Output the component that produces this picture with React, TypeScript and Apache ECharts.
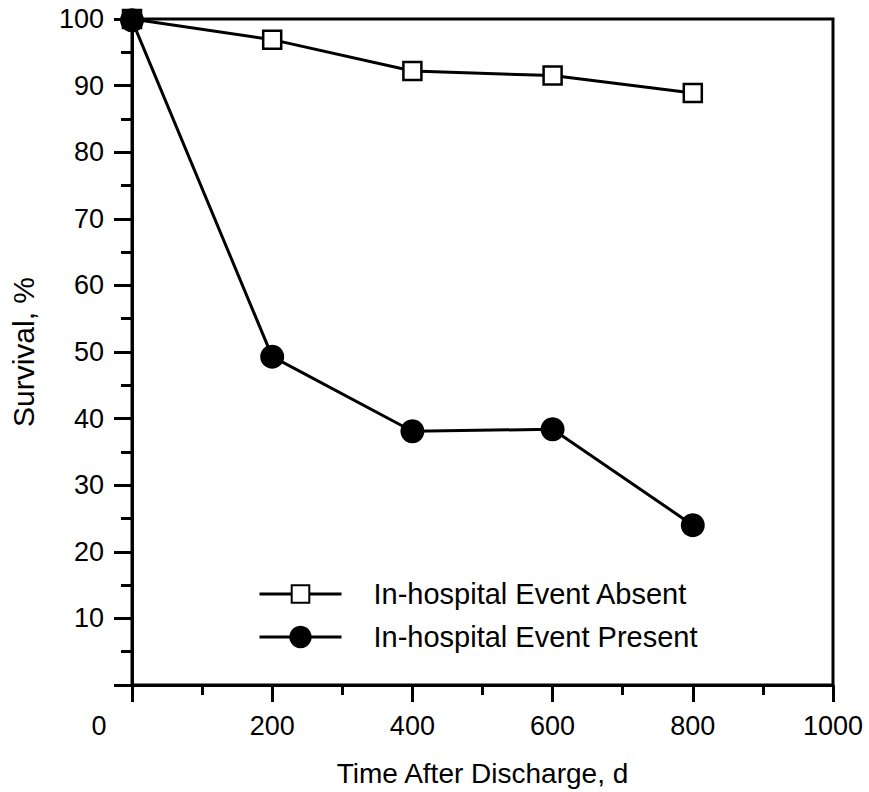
import React, { useEffect, useRef } from "react";
import * as echarts from "echarts";

const days = [0, 200, 400, 600, 800];
const absentSurvival = [100, 96.9, 92.2, 91.5, 88.9];
const presentSurvival = [99.8, 49.3, 38.1, 38.4, 24.0];
const seriesNames = ["In-hospital Event Absent", "In-hospital Event Present"];
const xAxisTitle = "Time After Discharge, d";
const yAxisTitle = "Survival, %";

const FONT = "'Liberation Sans', Arial, Helvetica, sans-serif";

export default function App() {
  const ref = useRef<HTMLDivElement>(null);
  useEffect(() => {
    if (!ref.current) return;
    const chart = echarts.init(ref.current, null, { renderer: "svg" });
    const axisLine = { show: true, lineStyle: { color: "#000", width: 3 } };
    const legendText = {
      fontFamily: FONT,
      fontSize: 29,
      lineHeight: 30,
      color: "#000",
      padding: [0, 0, 0, 27],
    };
    chart.setOption({
      animation: false,
      backgroundColor: "#fff",
      textStyle: { fontFamily: FONT, color: "#000" },
      grid: {
        left: 131,
        right: 36,
        top: 19,
        bottom: 107,
        show: true,
        borderColor: "#000",
        borderWidth: 3,
        backgroundColor: "transparent",
      },
      legend: [
        {
          orient: "vertical",
          left: 258,
          top: 579,
          padding: 0,
          itemWidth: 82,
          itemHeight: 22,
          data: [seriesNames[0]],
          lineStyle: { width: 3, color: "#000" },
          textStyle: legendText,
        },
        {
          orient: "vertical",
          left: 258,
          top: 622,
          padding: 0,
          itemWidth: 82,
          itemHeight: 28,
          data: [seriesNames[1]],
          lineStyle: { width: 3, color: "#000" },
          textStyle: legendText,
        },
      ],
      xAxis: {
        type: "value",
        min: 0,
        max: 1000,
        interval: 200,
        name: xAxisTitle,
        nameLocation: "middle",
        nameGap: 74,
        nameTextStyle: { fontFamily: FONT, fontSize: 28, color: "#000" },
        axisLine,
        axisTick: { show: true, inside: false, length: 17, lineStyle: { color: "#000", width: 3 } },
        minorTick: { show: true, splitNumber: 2, length: 10, lineStyle: { color: "#000", width: 3 } },
        splitLine: { show: false },
        axisLabel: {
          fontFamily: FONT,
          fontSize: 27,
          color: "#000",
          margin: 27,
          formatter: (v: number) => (v === 0 ? "{z|0}" : String(v)),
          rich: { z: { fontFamily: FONT, fontSize: 27, color: "#000", padding: [0, 66, 0, 0] } },
        },
      },
      yAxis: {
        type: "value",
        min: 0,
        max: 100,
        interval: 10,
        name: yAxisTitle,
        nameLocation: "middle",
        nameGap: 94,
        nameRotate: 90,
        nameTextStyle: { fontFamily: FONT, fontSize: 30, color: "#000" },
        axisLine,
        axisTick: { show: true, inside: false, length: 18, lineStyle: { color: "#000", width: 3 } },
        minorTick: { show: true, splitNumber: 2, length: 11, lineStyle: { color: "#000", width: 3 } },
        splitLine: { show: false },
        axisLabel: {
          fontFamily: FONT,
          fontSize: 27,
          color: "#000",
          margin: 28,
          formatter: (v: number) => (v === 0 ? "" : String(v)),
        },
      },
      series: [
        {
          name: seriesNames[0],
          type: "line",
          data: days.map((d, i) => [d, absentSurvival[i]]),
          symbol: "rect",
          symbolSize: 18,
          lineStyle: { color: "#000", width: 3 },
          itemStyle: { color: "#fff", borderColor: "#000", borderWidth: 2.5 },
          z: 2,
        },
        {
          name: seriesNames[1],
          type: "line",
          data: days.map((d, i) => [d, presentSurvival[i]]),
          symbol: "circle",
          symbolSize: 24,
          lineStyle: { color: "#000", width: 3 },
          itemStyle: { color: "#000", borderColor: "#000", borderWidth: 0 },
          z: 3,
        },
      ],
    });
    return () => chart.dispose();
  }, []);
  return (
    <div
      ref={ref}
      style={{ position: "absolute", left: 0, top: 0, width: 869, height: 792 }}
    />
  );
}
